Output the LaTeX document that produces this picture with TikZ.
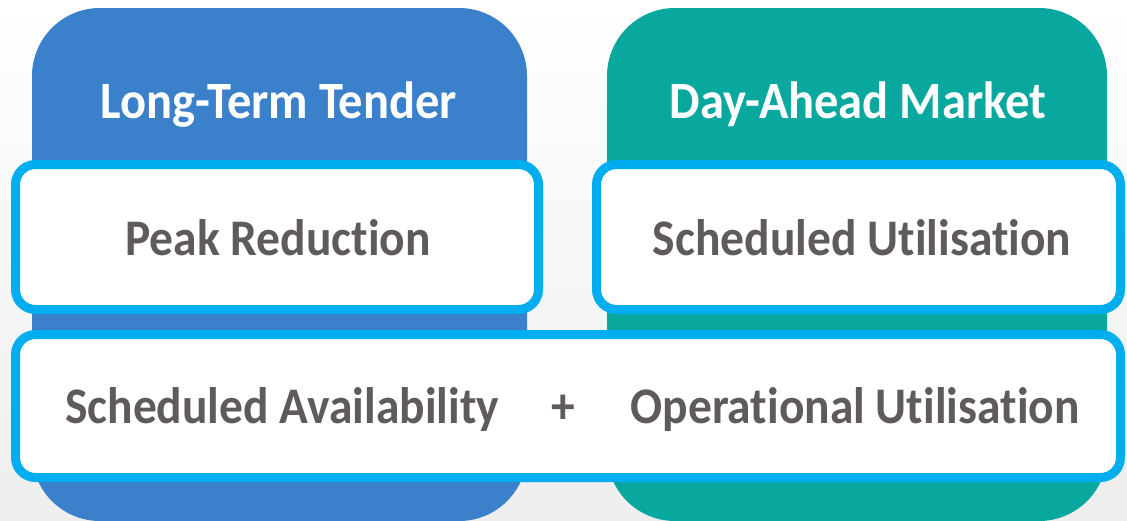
\documentclass[tikz,border=0pt]{standalone}
\usepackage{fontspec}
\usepackage{graphicx}
\setmainfont[RawFeature=-liga]{Carlito}
\definecolor{colblue}{RGB}{58,128,203}
\definecolor{colteal}{RGB}{8,168,158}
\definecolor{bordercyan}{RGB}{0,174,239}
\definecolor{txtgray}{RGB}{95,91,91}
\definecolor{bglight}{RGB}{238,238,238}
\newcommand{\tallt}[1]{\scalebox{1}[1.08]{#1}}
\begin{document}
\begin{tikzpicture}[x=1pt,y=-1pt,
  column/.style={rounded corners=68pt},
  itembox/.style={draw=bordercyan,line width=9pt,fill=white,rounded corners=20pt},
  headtxt/.style={text=white,font=\bfseries\fontsize{48.5}{50}\selectfont,inner sep=0pt,anchor=base},
  itemtxt/.style={text=txtgray,font=\bfseries\fontsize{47.5}{50}\selectfont,inner sep=0pt,anchor=base}]
\useasboundingbox (0,0) rectangle (1127,520);
\shade[top color=white,bottom color=bglight] (0,0) rectangle (1127,520);
% columns
\fill[colblue,column] (32,8) rectangle (527,521);
\fill[colteal,column] (607,8) rectangle (1107,521);
% boxes
\draw[itembox] (15.5,164.5) rectangle (538.5,309.5);
\draw[itembox] (596.5,164.5) rectangle (1120.5,309.5);
\draw[itembox] (15.5,334.5) rectangle (1120.5,477.5);
% texts
\node[headtxt] (lt) at (279,118) {\tallt{Long-Term Tender}};
\node[headtxt] (da) at (858,118) {\tallt{Day-Ahead Market}};
\node[itemtxt] (pr) at (278,255) {\tallt{Peak Reduction}};
\node[itemtxt] (su) at (862,255) {\tallt{Scheduled Utilisation}};
\node[itemtxt] (sa) at (282,423) {\tallt{Scheduled Availability}};
\node[itemtxt] (pl) at (563,423) {\tallt{+}};
\node[itemtxt] (ou) at (855,423) {\tallt{Operational Utilisation}};
\end{tikzpicture}
\end{document}
